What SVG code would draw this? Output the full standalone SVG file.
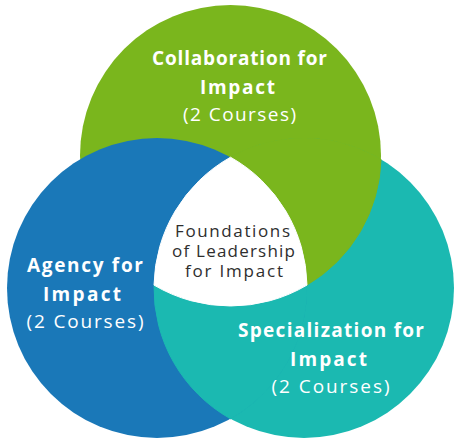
<svg xmlns="http://www.w3.org/2000/svg" width="457" height="439" viewBox="0 0 457 439">
<style>
.t{font-family:"Open Sans","Liberation Sans",sans-serif;fill:#fff;text-anchor:middle}
.b{font-weight:700;font-size:19px}
.r{font-weight:400;font-size:19px}
.c{font-family:"Open Sans","Liberation Sans",sans-serif;fill:#2e2e2e;text-anchor:middle;font-size:17px}
.g{fill:#7AB61D}
.tl{fill:#1BB9B1}
.bl{fill:#1A78B8}
.s{stroke-width:1}
</style>
<rect width="457" height="439" fill="#fff"/>
<g id="shapes">
<circle class="g" cx="230.5" cy="155.5" r="150.5"/>
<circle class="tl" cx="304" cy="288" r="150"/>
<circle class="bl" cx="157" cy="288" r="150"/>
<path class="tl s" stroke="#1BB9B1" d="M230.5,418.8 A150,150 0 0 0 307,285.1 A150.5,150.5 0 0 1 154,285.1 A150,150 0 0 0 230.5,418.8Z"/>
<path class="g s" stroke="#7AB61D" d="M381,159.3 A150,150 0 0 0 230.5,157.2 A150,150 0 0 1 307,285.1 A150.5,150.5 0 0 0 381,159.3Z"/>
<path fill="#fff" stroke="#fff" stroke-width="1" d="M230.5,157.2 A150,150 0 0 1 307,285.1 A150.5,150.5 0 0 1 154,285.1 A150,150 0 0 1 230.5,157.2Z"/>
</g>
<g id="collaboration">
<text class="t b" x="239.5" y="65" textLength="175">Collaboration for</text>
<text class="t b" x="237.5" y="94" textLength="75">Impact</text>
<text class="t r" x="239.5" y="121" textLength="113">(2 Courses)</text>
</g>
<g id="agency">
<text class="t b" x="85" y="272" textLength="116">Agency for</text>
<text class="t b" x="82" y="301" textLength="78">Impact</text>
<text class="t r" x="85" y="328" textLength="117">(2 Courses)</text>
</g>
<g id="specialization">
<text class="t b" x="331" y="337" textLength="186">Specialization for</text>
<text class="t b" x="328.5" y="366" textLength="77">Impact</text>
<text class="t r" x="330.5" y="393" textLength="118">(2 Courses)</text>
</g>
<g id="foundations">
<text class="c" x="232.5" y="237" textLength="115">Foundations</text>
<text class="c" x="233.5" y="257" textLength="123">of Leadership</text>
<text class="c" x="234" y="277" textLength="98">for Impact</text>
</g>
</svg>
